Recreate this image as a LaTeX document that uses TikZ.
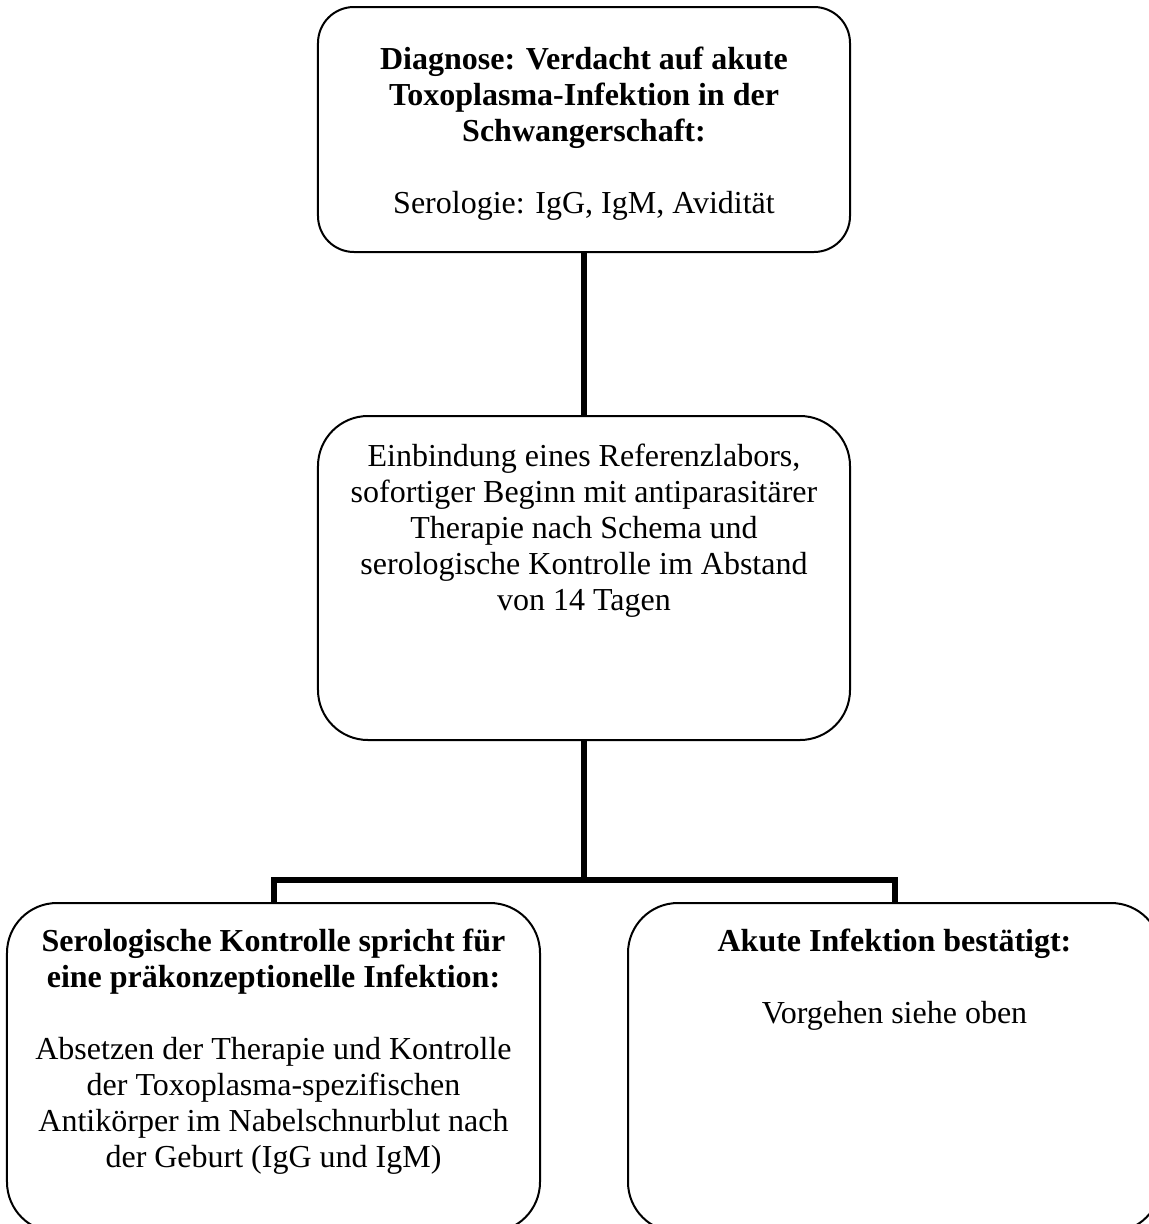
\documentclass[tikz,border=0pt]{standalone}
\usepackage{fontspec}
\setmainfont{Liberation Serif}
\begin{document}
\begin{tikzpicture}[x=1bp,y=-1bp,
  box/.style={draw=black, line width=2bp, rounded corners=#1, inner sep=0pt},
  box/.default=40bp,
  txt/.style={anchor=north, align=center, inner sep=0pt,
    font=\fontsize{32bp}{36bp}\selectfont},
  conn/.style={draw=black, line width=6bp, line join=miter}]
\useasboundingbox (0,0) rectangle (1149,1224);
\clip (0,0) rectangle (1149,1224);
\fill[white] (0,0) rectangle (1149,1224);

% boxes
\node[box=36bp, minimum width=532bp, minimum height=245bp] (top) at (584,129.5) {};
\node[box=50bp, minimum width=532bp, minimum height=324bp] (mid) at (584,578) {};
\node[box=50bp, minimum width=533bp, minimum height=329bp] (bl) at (273.5,1067.5) {};
\node[box=50bp, minimum width=533bp, minimum height=329bp] (br) at (894.5,1067.5) {};

% texts
\node[txt] (ttop) at (584,47) {\textbf{Diagnose: Verdacht auf akute}\\\textbf{Toxoplasma-Infektion in der}\\\textbf{Schwangerschaft:}\\[36bp]Serologie: IgG, IgM, Avidität};
\node[txt] (tmid) at (584,444) {Einbindung eines Referenzlabors,\\sofortiger Beginn mit antiparasitärer\\Therapie nach Schema und\\serologische Kontrolle im Abstand\\von 14 Tagen};
\node[txt] (tbl) at (273.5,929) {\textbf{Serologische Kontrolle spricht für}\\\textbf{eine präkonzeptionelle Infektion:}\\[36bp]Absetzen der Therapie und Kontrolle\\der Toxoplasma-spezifischen\\Antikörper im Nabelschnurblut nach\\der Geburt (IgG und IgM)};
\node[txt] (tbr) at (894.5,929) {\textbf{Akute Infektion bestätigt:}\\[36bp]Vorgehen siehe oben};

% connectors
\coordinate (j) at (584,880);
\draw[conn] (top.south) -- (mid.north);
\draw[conn] (mid.south) -- (j);
\draw[conn] (bl.north) |- (j) -| (br.north);
\end{tikzpicture}
\end{document}
